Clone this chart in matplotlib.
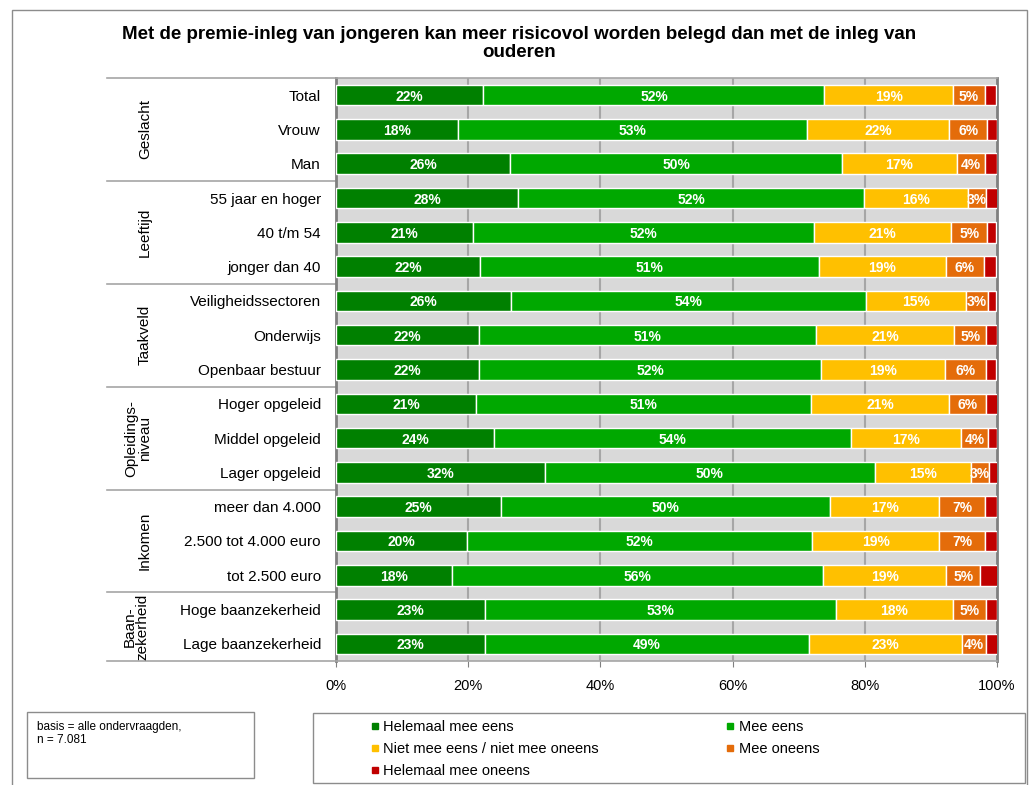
import matplotlib
matplotlib.use("Agg")
import matplotlib.pyplot as plt
from matplotlib.patches import Rectangle
from matplotlib.lines import Line2D
import numpy as np

plt.rcParams['font.family'] = ['Liberation Sans', 'DejaVu Sans']

title = "Met de premie-inleg van jongeren kan meer risicovol worden belegd dan met de inleg van\nouderen"

categories = ["Total", "Vrouw", "Man",
              "55 jaar en hoger", "40 t/m 54", "jonger dan 40",
              "Veiligheidssectoren", "Onderwijs", "Openbaar bestuur",
              "Hoger opgeleid", "Middel opgeleid", "Lager opgeleid",
              "meer dan 4.000", "2.500 tot 4.000 euro", "tot 2.500 euro",
              "Hoge baanzekerheid", "Lage baanzekerheid"]

groups = ["Geslacht", "Leeftijd", "Taakveld", "Opleidings-\nniveau", "Inkomen", "Baan-\nzekerheid"]
group_sizes = [3, 3, 3, 3, 3, 2]

series_names = ["Helemaal mee eens", "Mee eens", "Niet mee eens / niet mee oneens",
                "Mee oneens", "Helemaal mee oneens"]

helemaal_eens = [22.3, 18.4, 26.3, 27.6, 20.7, 21.8, 26.4, 21.6, 21.6,
                 21.2, 23.9, 31.6, 25.0, 19.8, 17.6, 22.6, 22.6]
mee_eens = [51.6, 52.8, 50.3, 52.3, 51.6, 51.2, 53.8, 51.0, 51.8,
            50.7, 54.0, 49.9, 49.7, 52.2, 56.1, 53.1, 48.9]
neutraal = [19.4, 21.6, 17.3, 15.7, 20.8, 19.3, 15.1, 20.9, 18.7,
            20.8, 16.7, 14.6, 16.6, 19.3, 18.6, 17.6, 23.2]
mee_oneens = [4.9, 5.7, 4.3, 2.8, 5.4, 5.7, 3.4, 4.9, 6.3,
              5.6, 4.1, 2.7, 6.9, 6.9, 5.2, 5.1, 3.7]
helemaal_oneens = [1.7, 1.5, 1.8, 1.7, 1.4, 1.8, 1.2, 1.6, 1.5,
                   1.8, 1.3, 1.3, 1.8, 1.8, 2.7, 1.6, 1.7]

series = [helemaal_eens, mee_eens, neutraal, mee_oneens, helemaal_oneens]
colors = ["#008000", "#00A800", "#FFC000", "#E46C0A", "#C00000"]

xticks = [0, 20, 40, 60, 80, 100]
xticklabels = ["0%", "20%", "40%", "60%", "80%", "100%"]

W, H = 1030, 785
fig = plt.figure(figsize=(W / 100, H / 100), dpi=100)

def fx(px):
    return px / W

def fy(py):
    return 1 - py / H

# outer border
fig.patches.append(Rectangle((fx(12), fy(800)), fx(1027) - fx(12), fy(10) - fy(800),
                             transform=fig.transFigure, fill=False, edgecolor="#8C8C8C", lw=1))

ax_left, ax_right, ax_top, ax_bot = 336, 997, 78, 661
ax = fig.add_axes([fx(ax_left), fy(ax_bot), fx(ax_right) - fx(ax_left), fy(ax_top) - fy(ax_bot)])
ax.set_facecolor("#D9D9D9")

y = np.arange(len(categories))
left = np.zeros(len(categories))
for vals, col, name in zip(series, colors, series_names):
    vals = np.array(vals)
    bars = ax.barh(y, vals, left=left, height=0.6, color=col, edgecolor="white",
                   linewidth=1.0, label=name, zorder=3)
    if name != "Helemaal mee oneens":
        texts = ax.bar_label(bars, labels=[f"{v:.0f}%" for v in vals], label_type="center",
                             color="white", fontweight="bold", fontsize=10, zorder=4)
        for t in texts:
            t.set_va("center_baseline")
    left += vals

ax.set_xlim(0, 100)
ax.set_ylim(len(categories) - 0.5, -0.5)
ax.set_xticks(xticks)
ax.set_xticklabels(xticklabels, fontsize=10.5)
ax.tick_params(axis="x", direction="out", length=4, color="#808080", pad=9)
ax.set_yticks([])
for gx in xticks[1:-1]:
    ax.axvline(gx, color="#A6A6A6", lw=1.5, zorder=1)
ax.spines["left"].set_color("#7F7F7F")
ax.spines["left"].set_linewidth(2)
ax.spines["right"].set_color("#7F7F7F")
ax.spines["right"].set_linewidth(2)
ax.spines["bottom"].set_color("#A6A6A6")
ax.spines["bottom"].set_linewidth(1.2)
ax.spines["top"].set_color("#A6A6A6")
ax.spines["top"].set_linewidth(1.2)

# left table
tr = ax.get_yaxis_transform()
x_tab = (107 - ax_left) / (ax_right - ax_left)
x_cat = (321 - ax_left) / (ax_right - ax_left)
for i, c in enumerate(categories):
    ax.text(x_cat, i, c, transform=tr, ha="right", va="center_baseline", fontsize=11,
            color="#000000")

bounds = [-0.5]
for s in group_sizes:
    bounds.append(bounds[-1] + s)
for b in bounds:
    ax.plot([x_tab, 0], [b, b], transform=tr, color="#A6A6A6", lw=1.2, clip_on=False)

group_x = {"Geslacht": 145, "Leeftijd": 145, "Taakveld": 145, "Opleidings-\nniveau": 138,
           "Inkomen": 145, "Baan-\nzekerheid": 136}
for g, b0, b1 in zip(groups, bounds[:-1], bounds[1:]):
    gxp = (group_x[g] - ax_left) / (ax_right - ax_left)
    ax.text(gxp, (b0 + b1) / 2, g, transform=tr, rotation=90, ha="center", va="center",
            fontsize=11, multialignment="center", linespacing=0.95)

# title
fig.text(fx(519), fy(43.5), title, ha="center", va="center", fontsize=13.5,
         fontweight="bold", linespacing=1.1)

# basis box
fig.patches.append(Rectangle((fx(27), fy(778)), fx(254) - fx(27), fy(712) - fy(778),
                             transform=fig.transFigure, fill=False, edgecolor="#8C8C8C", lw=1))
fig.text(fx(37), fy(721), "basis = alle ondervraagden,\nn = 7.081", ha="left", va="top",
         fontsize=8.5, linespacing=1.1)

# legend
fig.patches.append(Rectangle((fx(313), fy(783)), fx(1025) - fx(313), fy(713) - fy(783),
                             transform=fig.transFigure, fill=False, edgecolor="#8C8C8C", lw=1))
handles = [Line2D([], [], marker="s", linestyle="none", markersize=5,
                  markerfacecolor=c, markeredgecolor=c) for c in colors]
order = [0, 2, 4, 1, 3]
leg = fig.legend([handles[i] for i in order], [series_names[i] for i in order],
                 loc="upper left", bbox_to_anchor=(fx(360), fy(710)), ncol=2,
                 frameon=False, fontsize=10.5, handlelength=0.6, handletextpad=0.3,
                 columnspacing=8.7, labelspacing=0.55, borderpad=0.2)

fig.savefig("out.png", dpi=100)
